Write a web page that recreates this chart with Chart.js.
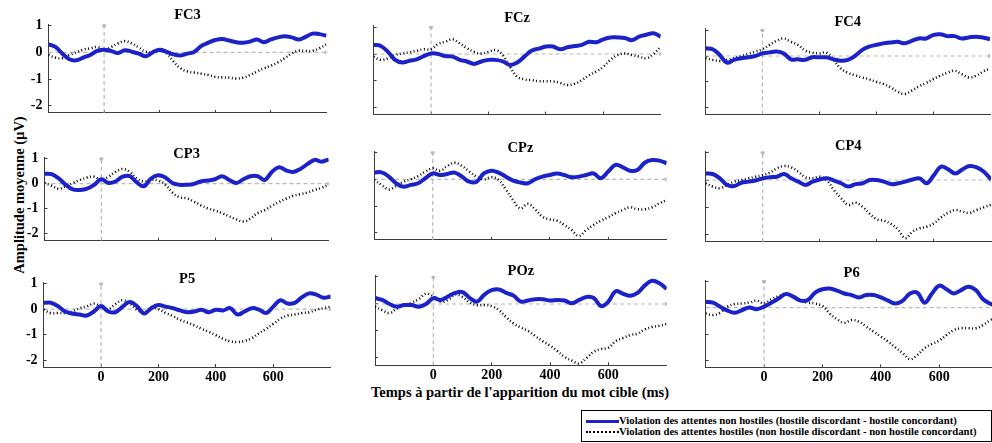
<!DOCTYPE html>
<html>
<head>
<meta charset="utf-8">
<title>Amplitude moyenne</title>
<script src="https://cdn.jsdelivr.net/npm/chart.js@4.4.1/dist/chart.umd.min.js"></script>
<style>
  body { margin: 0; background: #fff; }
  #wrap { position: relative; width: 992px; height: 443px; overflow: hidden; background: #fff;
          font-family: "Liberation Serif", "Times New Roman", serif; font-weight: bold; color: #000; }
  #wrap canvas { position: absolute; }
  .axis-title { position: absolute; white-space: nowrap; font-size: 14.5px; line-height: 16px; }
  #ytitle { left: 19px; top: 195px; transform: translate(-50%, -50%) rotate(-90deg); }
  #xtitle { left: 520px; top: 392px; transform: translate(-50%, -50%); }
  #legend { position: absolute; left: 581px; top: 410px; width: 411px; height: 32px; box-sizing: border-box;
            border: 1px solid #000; font-size: 10.7px; line-height: 10.5px; padding: 4px 0 0 4px; overflow: hidden; }
  #legend div { white-space: nowrap; height: 10.5px; }
  #legend span { display: inline-block; width: 33px; vertical-align: middle; }
  #legend .solid { border-top: 3px solid #1a22c8; }
  #legend .dots { border-top: 2px dotted #000; }
</style>
</head>
<body>
<div id="wrap">
  <div id="ytitle" class="axis-title">Amplitude moyenne (µV)</div>
  <div id="xtitle" class="axis-title">Temps à partir de l'apparition du mot cible (ms)</div>
  <div id="legend">
    <div><span class="solid"></span>Violation des attentes non hostiles (hostile discordant - hostile concordant)</div>
    <div><span class="dots"></span>Violation des attentes hostiles (non hostile discordant - non hostile concordant)</div>
  </div>
</div>
<script>
// time axis (ms)
var times = [-200, -175, -150, -125, -100, -75, -50, -25,
             0, 25, 50, 75, 100, 125, 150, 175,
             200, 225, 250, 275, 300, 325, 350, 375,
             400, 425, 450, 475, 500, 525, 550, 575,
             600, 625, 650, 675, 700, 725, 750, 775, 800];
var xTicks = [0, 200, 400, 600];
var yTicks = [-2, -1, 0, 1];
var yMin = -2.27, yMax = 1.05;
var baselineX = [-200, 800];
var onsetY = [-2.27, 1];

// amplitudes (µV) - solid: non hostile, dotted: hostile
var fc3Solid = [0.3, 0.2, -0.05, -0.26, -0.3, -0.2, -0.1, 0.05,
  0.1, 0.05, -0.03, 0.08, 0.02, -0.05, -0.15, 0,
  0.1, 0.02, -0.08, -0.12, -0.05, 0.02, 0.24, 0.36,
  0.46, 0.5, 0.44, 0.38, 0.36, 0.4, 0.48, 0.38,
  0.48, 0.56, 0.6, 0.56, 0.48, 0.58, 0.7, 0.68, 0.62];
var fc3Dotted = [-0.1, -0.2, -0.22, -0.1, 0, 0.1, 0.15, 0.2,
  0.1, 0.2, 0.33, 0.42, 0.33, 0.18, 0.02, 0,
  0.05, -0.04, -0.35, -0.6, -0.72, -0.76, -0.8, -0.85,
  -0.92, -0.94, -0.95, -0.98, -0.95, -0.85, -0.72, -0.6,
  -0.5, -0.38, -0.22, -0.04, 0.06, 0.05, 0.06, 0.15, 0.3];

var fczSolid = [0.34, 0.3, 0.08, -0.22, -0.32, -0.25, -0.2, -0.08,
  0.02, 0, -0.08, -0.1, -0.22, -0.28, -0.37, -0.28,
  -0.22, -0.22, -0.28, -0.41, -0.32, -0.1, 0.12, 0.2,
  0.28, 0.28, 0.18, 0.25, 0.3, 0.34, 0.46, 0.44,
  0.55, 0.62, 0.62, 0.6, 0.52, 0.65, 0.72, 0.78, 0.65];
var fczDotted = [-0.1, -0.22, -0.16, -0.04, 0.02, 0.06, 0.12, 0.18,
  0.18, 0.38, 0.46, 0.55, 0.4, 0.22, 0.08, 0.02,
  0.08, 0.15, -0.04, -0.48, -0.85, -0.95, -0.98, -1.02,
  -1.02, -1.03, -1.08, -1.16, -1.12, -0.98, -0.8, -0.66,
  -0.48, -0.22, -0.04, 0.02, -0.04, -0.1, -0.16, 0, 0.28];

var fc4Solid = [0.3, 0.26, 0.04, -0.26, -0.15, -0.09, -0.05, 0,
  0.1, 0.14, 0.17, 0.1, -0.13, -0.13, -0.15, -0.05,
  -0.05, -0.05, -0.13, -0.18, -0.15, 0, 0.23, 0.36,
  0.43, 0.49, 0.52, 0.55, 0.49, 0.59, 0.68, 0.68,
  0.81, 0.84, 0.77, 0.77, 0.68, 0.72, 0.75, 0.72, 0.65];
var fc4Dotted = [-0.09, -0.15, -0.19, -0.15, -0.09, 0, 0.08, 0.17,
  0.26, 0.43, 0.59, 0.68, 0.55, 0.43, 0.21, 0.13,
  0.1, 0.13, -0.15, -0.48, -0.65, -0.74, -0.83, -0.9,
  -1.0, -1.08, -1.21, -1.38, -1.47, -1.34, -1.18, -1.05,
  -0.9, -0.77, -0.65, -0.57, -0.7, -0.83, -0.77, -0.61, -0.48];

var cp3Solid = [0.4, 0.38, 0.21, -0.04, -0.23, -0.25, -0.2, -0.04,
  0.18, 0.03, 0.09, 0.28, 0.3, 0.05, -0.1, 0.21,
  0.34, 0.25, 0.03, -0.04, -0.04, -0.01, 0.09, 0.13,
  0.18, 0.3, 0.15, 0.03, 0.18, 0.3, 0.3, 0.15,
  0.47, 0.66, 0.53, 0.47, 0.59, 0.78, 0.95, 0.88, 0.97];
var cp3Dotted = [0.03, -0.08, -0.2, -0.1, 0.03, 0.15, 0.25, 0.28,
  0.15, 0.28, 0.47, 0.59, 0.47, 0.21, 0.09, 0.15,
  0.13, -0.04, -0.35, -0.54, -0.58, -0.71, -0.86, -0.98,
  -1.07, -1.17, -1.3, -1.42, -1.51, -1.39, -1.17, -1.05,
  -0.88, -0.73, -0.6, -0.48, -0.42, -0.35, -0.25, -0.16, -0.04];

var cpzSolid = [0.25, 0.26, 0.1, -0.15, -0.28, -0.21, -0.15, 0.04,
  0.22, 0.16, 0.2, 0.25, 0.1, -0.09, -0.09, 0.22,
  0.32, 0.25, 0.1, -0.05, -0.12, -0.15, 0, 0.1,
  0.16, 0.22, 0.16, 0.08, 0.1, 0.16, 0.22, 0.04,
  0.29, 0.54, 0.45, 0.32, 0.35, 0.62, 0.72, 0.7, 0.6];
var cpzDotted = [-0.02, -0.21, -0.38, -0.25, -0.09, 0, 0.12, 0.29,
  0.41, 0.32, 0.5, 0.62, 0.5, 0.29, 0.1, 0,
  0.08, -0.02, -0.38, -0.78, -1.09, -0.92, -1.12, -1.4,
  -1.5, -1.55, -1.71, -1.9, -2.12, -1.9, -1.71, -1.55,
  -1.42, -1.27, -1.15, -1.05, -1.12, -1.12, -1.05, -0.9, -0.78];

var cp4Solid = [0.24, 0.22, 0.06, -0.18, -0.22, -0.1, -0.06, -0.02,
  0.06, 0.1, 0.12, 0.22, 0.06, -0.06, -0.18, -0.06,
  0.02, 0.06, -0.02, -0.12, -0.24, -0.15, -0.12, 0,
  0, -0.06, -0.15, -0.12, -0.06, 0.02, 0.06, -0.12,
  0.18, 0.49, 0.39, 0.24, 0.39, 0.51, 0.46, 0.3, 0.02];
var cp4Dotted = [-0.12, -0.24, -0.3, -0.18, -0.06, 0, 0.06, 0.12,
  0.18, 0.27, 0.43, 0.51, 0.46, 0.3, 0.1, 0.06,
  0.12, -0.02, -0.37, -0.67, -0.91, -0.83, -0.98, -1.24,
  -1.44, -1.49, -1.61, -1.83, -2.13, -1.89, -1.77, -1.71,
  -1.59, -1.37, -1.2, -1.1, -1.16, -1.2, -1.1, -1.0, -0.91];

var p5Solid = [0.25, 0.25, 0.12, -0.09, -0.17, -0.21, -0.25, -0.09,
  0.12, -0.09, -0.12, 0.1, 0.28, 0.12, -0.17, 0.04,
  0.16, 0.1, 0.04, -0.05, -0.12, -0.09, -0.02, -0.12,
  -0.02, -0.05, 0.04, -0.21, -0.09, 0.04, -0.02, -0.15,
  0.1, 0.35, 0.22, 0.25, 0.47, 0.62, 0.57, 0.45, 0.5];
var p5Dotted = [-0.02, -0.15, -0.15, -0.15, -0.09, 0.04, 0.1, 0.22,
  0.1, 0, 0.2, 0.35, 0.22, -0.02, -0.12, 0.04,
  0, -0.15, -0.27, -0.42, -0.52, -0.64, -0.77, -0.89,
  -1.02, -1.16, -1.26, -1.29, -1.24, -1.14, -0.95, -0.77,
  -0.58, -0.37, -0.25, -0.21, -0.15, -0.12, -0.02, 0.04, 0.1];

var pozSolid = [0.22, 0.15, 0, -0.1, -0.04, -0.04, -0.1, 0,
  0.22, 0.15, 0.28, 0.41, 0.44, 0.22, 0.09, 0.35,
  0.51, 0.54, 0.41, 0.31, 0.09, 0.13, 0.18, 0.18,
  0.13, 0.15, 0.13, 0.03, 0.15, 0.26, 0.22, -0.08,
  0.09, 0.47, 0.38, 0.31, 0.41, 0.69, 0.86, 0.77, 0.56];
var pozDotted = [-0.1, -0.23, -0.33, -0.17, -0.04, 0.05, 0.18, 0.38,
  0.28, 0.09, 0.15, 0.35, 0.26, 0.05, -0.04, -0.04,
  -0.08, -0.23, -0.49, -0.72, -0.87, -1.0, -1.19, -1.38,
  -1.54, -1.74, -1.96, -2.1, -2.2, -2.0, -1.77, -1.67,
  -1.62, -1.38, -1.26, -1.15, -1.1, -0.94, -0.85, -0.81, -0.74];

var p6Solid = [0.23, 0.19, 0.04, -0.11, -0.19, -0.09, 0.01, -0.06,
  0.04, 0.19, 0.35, 0.52, 0.42, 0.27, 0.29, 0.57,
  0.7, 0.73, 0.65, 0.54, 0.48, 0.39, 0.48, 0.48,
  0.39, 0.27, 0.16, 0.27, 0.54, 0.57, 0.19, 0.54,
  0.84, 0.7, 0.54, 0.67, 0.8, 0.67, 0.32, 0.15, 0.05];
var p6Dotted = [-0.22, -0.28, -0.19, 0.04, 0.14, 0.16, 0.19, 0.27,
  0.16, 0.32, 0.44, 0.54, 0.42, 0.27, 0.19, 0.16,
  0.06, -0.22, -0.44, -0.57, -0.47, -0.53, -0.72, -0.91,
  -1.1, -1.29, -1.51, -1.73, -1.96, -1.8, -1.54, -1.38,
  -1.25, -1.04, -0.85, -0.78, -0.78, -0.78, -0.66, -0.47, -0.32];

var names = ['FC3', 'FCz', 'FC4', 'CP3', 'CPz', 'CP4', 'P5', 'POz', 'P6'];
var solid = [fc3Solid, fczSolid, fc4Solid, cp3Solid, cpzSolid, cp4Solid, p5Solid, pozSolid, p6Solid];
var dotted = [fc3Dotted, fczDotted, fc4Dotted, cp3Dotted, cpzDotted, cp4Dotted, p5Dotted, pozDotted, p6Dotted];

// where each plot area sits on the page: left, right, y of 0 µV, px per µV, title centre
var boxes = [
  { l: 48.5, r: 326.5, y0: 52.3, u: 26.7, ty: 15 },
  { l: 373.6, r: 660.7, y0: 54, u: 26.7, ty: 18.5 },
  { l: 705.5, r: 990, y0: 56, u: 25.8, ty: 22 },
  { l: 44.5, r: 328.7, y0: 180.7, u: 26.4, ty: 150 },
  { l: 374.2, r: 666.7, y0: 179.3, u: 26.7, ty: 148.3 },
  { l: 705.6, r: 991, y0: 180, u: 27.3, ty: 146.7 },
  { l: 43.6, r: 330.7, y0: 306, u: 26.9, ty: 275 },
  { l: 375, r: 666.7, y0: 304, u: 27, ty: 271.7 },
  { l: 705.6, r: 997.7, y0: 307.7, u: 26.3, ty: 273.3 }
];

var serif = '"Liberation Serif", "Times New Roman", serif';
var axisColor = '#3c3c3c';
var refColor = '#b8b8b8';

function pts(xs, ys) {
  return xs.map(function (x, k) { return { x: x, y: ys[k] }; });
}

var wrap = document.getElementById('wrap');

names.forEach(function (name, i) {
  var b = boxes[i];
  var leftCol = i % 3 === 0;
  var bottomRow = i >= 6;
  var plotTop = b.y0 - yMax * b.u;
  var plotW = b.r - b.l;
  var plotH = (yMax - yMin) * b.u;

  var cLeft = Math.round(b.l - 46);
  var cTop = Math.round(b.ty - 10);
  var lW = b.l - cLeft;
  var headH = plotTop - cTop;

  var canvas = document.createElement('canvas');
  canvas.width = Math.round(lW + plotW + 4);
  canvas.height = Math.round(headH + plotH + 24);
  canvas.style.left = cLeft + 'px';
  canvas.style.top = cTop + 'px';
  wrap.appendChild(canvas);

  var rPad = canvas.width - lW - plotW;
  var bH = canvas.height - headH - plotH;
  var padTop = b.ty - cTop - 8.7;

  new Chart(canvas.getContext('2d'), {
    type: 'line',
    data: {
      datasets: [{
        data: pts(times, solid[i]),
        borderColor: '#1a22c8',
        borderWidth: 4,
        pointRadius: 0,
        tension: 0.4
      },
      {
        data: pts(times, dotted[i]),
        borderColor: '#000',
        borderWidth: 2.5,
        borderDash: [1, 2.5],
        pointRadius: 0,
        tension: 0.4
      },
      {
        data: pts(baselineX, [0, 0]),
        borderColor: refColor,
        borderWidth: 1.2,
        borderDash: [4, 3],
        pointRadius: [0, 2],
        pointBackgroundColor: refColor,
        pointBorderWidth: 0
      },
      {
        data: pts([0, 0], onsetY),
        borderColor: refColor,
        borderWidth: 1.2,
        borderDash: [4, 3],
        pointRadius: [0, 2],
        pointBackgroundColor: refColor,
        pointBorderWidth: 0
      }]
    },
    options: {
      responsive: false,
      animation: false,
      events: [],
      layout: { padding: { left: 0, top: 0, bottom: 0, right: rPad } },
      plugins: {
        legend: { display: false },
        tooltip: { enabled: false },
        title: {
          display: true,
          fullSize: false,
          text: name,
          color: '#000',
          font: { family: serif, size: 14.5, weight: 'bold', lineHeight: 1.2 },
          padding: { top: padTop, bottom: headH - 17.4 - padTop }
        }
      },
      scales: {
        x: {
          type: 'linear',
          min: -200,
          max: 800,
          afterBuildTicks: function (s) { s.ticks = xTicks.map(function (v) { return { value: v }; }); },
          afterFit: function (s) { s.height = bH; },
          grid: { drawOnChartArea: false, tickLength: -3, color: axisColor },
          border: { color: axisColor, width: 1 },
          ticks: { display: bottomRow, padding: 5, color: '#000', font: { family: serif, size: 14, weight: 'bold' } }
        },
        y: {
          min: yMin,
          max: yMax,
          afterBuildTicks: function (s) { s.ticks = yTicks.map(function (v) { return { value: v }; }); },
          afterFit: function (s) { s.width = lW; },
          grid: { drawOnChartArea: false, tickLength: -3, color: axisColor },
          border: { color: axisColor, width: 1 },
          ticks: { display: leftCol, padding: 9, color: '#000', font: { family: serif, size: 14, weight: 'bold' } }
        }
      }
    }
  });
});
</script>
</body>
</html>
